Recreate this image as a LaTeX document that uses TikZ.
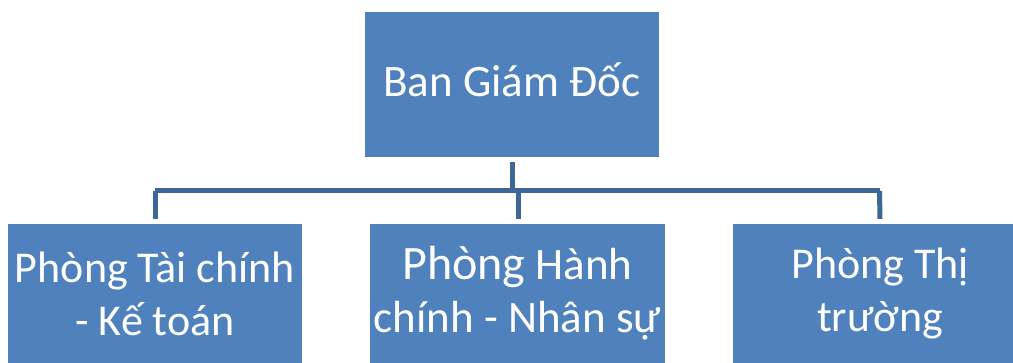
\documentclass[tikz,border=0pt]{standalone}
\usepackage{fontspec}
\setmainfont{Carlito}
\definecolor{boxblue}{HTML}{4F81BD}
\definecolor{linkblue}{HTML}{3D6796}
\begin{document}
\begin{tikzpicture}[x=1pt,y=-1pt,
  unit/.style={fill=boxblue,draw=none,text=white,align=center,inner sep=0pt,
    font=\fontsize{44}{53}\selectfont},
  link/.style={draw=linkblue,line width=5pt}]
\useasboundingbox (0,0) rectangle (1013,363);
\fill[white] (0,0) rectangle (1013,363);
\node[unit,minimum width=294pt,minimum height=145pt,text height=35pt,text depth=10pt,font=\fontsize{45}{53}\selectfont] (top) at (512,84.5) {Ban Giám Đốc};
\node[unit,minimum width=294pt,minimum height=139pt] (left) at (155,293.5) {Phòng Tài chính\\- Kế toán};
\node[unit,minimum width=295pt,minimum height=139pt,font=\fontsize{45}{53}\selectfont] (mid) at (517.5,293.5) {{\fontsize{48}{53}\selectfont Phòng} Hành\\chính - Nhân sự};
\node[unit,minimum width=294pt,minimum height=139pt] (right) at (880,293.5) {Phòng Thị\\trường};
\coordinate (hl) at (155,191);
\coordinate (hr) at (879.5,191);
\draw[link] ([yshift=-5pt]top.south) -- (top.south |- hl);
\draw[link] (hl) -- (hr);
\draw[link] (hl) -- ([yshift=5pt]left.north);
\draw[link] (hr) -- ([yshift=5pt]right.north);
\draw[link] (518.5,191) -- ([xshift=1pt,yshift=5pt]mid.north);
\end{tikzpicture}
\end{document}
